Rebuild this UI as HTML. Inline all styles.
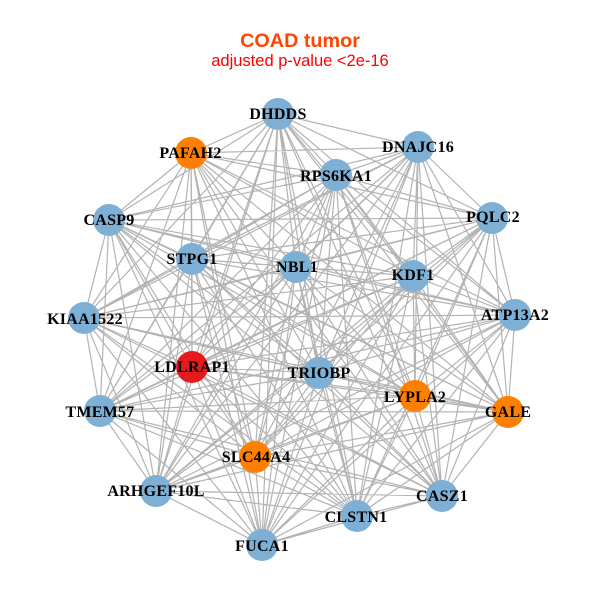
<!DOCTYPE html>
<html><head><meta charset="utf-8"><style>
html,body{margin:0;padding:0;background:#fff}
svg{display:block}
.l text{font-family:"Liberation Serif",serif;font-weight:bold;font-size:16px;letter-spacing:.25px;text-anchor:middle;fill:#000}
</style></head><body>
<svg width="600" height="600" viewBox="0 0 600 600" xmlns="http://www.w3.org/2000/svg">
<rect width="600" height="600" fill="#fff"/>
<text x="300" y="47" text-anchor="middle" font-family="Liberation Sans, sans-serif" font-weight="bold" font-size="19.8" fill="#ff4500">COAD tumor</text>
<text x="300" y="66" text-anchor="middle" font-family="Liberation Sans, sans-serif" font-size="16.5" fill="#ff0000">adjusted p-value &lt;2e-16</text>
<path fill="none" stroke="#b3b3b3" stroke-width="1.2" stroke-linejoin="round" d="
M278 114 191 153 278 114 418 147 278 114 336 175 278 114 109 220 278 114 492 218 278 114 192 259 278 114 296 267 278 114 413 276 278 114 84 318 278 114 515 315 278 114 192 367 278 114 319 373 278 114 415 396 278 114 508 412 278 114 100 411 278 114 255 457 278 114 156 491 278 114 442 496 278 114 357 516 278 114 262 545
M191 153 418 147 191 153 336 175 191 153 109 220 191 153 492 218 191 153 192 259 191 153 296 267 191 153 413 276 191 153 84 318 191 153 515 315 191 153 192 367 191 153 319 373 191 153 415 396 191 153 508 412 191 153 100 411 191 153 255 457 191 153 156 491 191 153 442 496 191 153 357 516 191 153 262 545
M418 147 336 175 418 147 109 220 418 147 492 218 418 147 192 259 418 147 296 267 418 147 413 276 418 147 84 318 418 147 515 315 418 147 192 367 418 147 319 373 418 147 415 396 418 147 508 412 418 147 100 411 418 147 255 457 418 147 156 491 418 147 442 496 418 147 357 516 418 147 262 545
M336 175 109 220 336 175 492 218 336 175 192 259 336 175 296 267 336 175 413 276 336 175 84 318 336 175 515 315 336 175 192 367 336 175 319 373 336 175 415 396 336 175 508 412 336 175 100 411 336 175 255 457 336 175 156 491 336 175 442 496 336 175 357 516 336 175 262 545
M109 220 492 218 109 220 192 259 109 220 296 267 109 220 413 276 109 220 84 318 109 220 515 315 109 220 192 367 109 220 319 373 109 220 415 396 109 220 508 412 109 220 100 411 109 220 255 457 109 220 156 491 109 220 442 496 109 220 357 516 109 220 262 545
M492 218 192 259 492 218 296 267 492 218 413 276 492 218 84 318 492 218 515 315 492 218 192 367 492 218 319 373 492 218 415 396 492 218 508 412 492 218 100 411 492 218 255 457 492 218 156 491 492 218 442 496 492 218 357 516 492 218 262 545
M192 259 296 267 192 259 413 276 192 259 84 318 192 259 515 315 192 259 192 367 192 259 319 373 192 259 415 396 192 259 508 412 192 259 100 411 192 259 255 457 192 259 156 491 192 259 442 496 192 259 357 516 192 259 262 545
M296 267 413 276 296 267 84 318 296 267 515 315 296 267 192 367 296 267 319 373 296 267 415 396 296 267 508 412 296 267 100 411 296 267 255 457 296 267 156 491 296 267 442 496 296 267 357 516 296 267 262 545
M413 276 84 318 413 276 515 315 413 276 192 367 413 276 319 373 413 276 415 396 413 276 508 412 413 276 100 411 413 276 255 457 413 276 156 491 413 276 442 496 413 276 357 516 413 276 262 545
M84 318 515 315 84 318 192 367 84 318 319 373 84 318 415 396 84 318 508 412 84 318 100 411 84 318 255 457 84 318 156 491 84 318 442 496 84 318 357 516 84 318 262 545
M515 315 192 367 515 315 319 373 515 315 415 396 515 315 508 412 515 315 100 411 515 315 255 457 515 315 156 491 515 315 442 496 515 315 357 516 515 315 262 545
M192 367 319 373 192 367 415 396 192 367 508 412 192 367 100 411 192 367 255 457 192 367 156 491 192 367 442 496 192 367 357 516 192 367 262 545
M319 373 415 396 319 373 508 412 319 373 100 411 319 373 255 457 319 373 156 491 319 373 442 496 319 373 357 516 319 373 262 545
M415 396 508 412 415 396 100 411 415 396 255 457 415 396 156 491 415 396 442 496 415 396 357 516 415 396 262 545
M508 412 100 411 508 412 255 457 508 412 156 491 508 412 442 496 508 412 357 516 508 412 262 545
M100 411 255 457 100 411 156 491 100 411 442 496 100 411 357 516 100 411 262 545
M255 457 156 491 255 457 442 496 255 457 357 516 255 457 262 545
M156 491 442 496 156 491 357 516 156 491 262 545
M442 496 357 516 442 496 262 545
M357 516 262 545"/>
<g fill="#7eb0d5">
<circle cx="278" cy="114" r="16"/><circle cx="418" cy="147" r="16"/><circle cx="336" cy="175" r="16"/><circle cx="109" cy="220" r="16"/><circle cx="492" cy="218" r="16"/><circle cx="192" cy="259" r="16"/><circle cx="296" cy="267" r="16"/><circle cx="413" cy="276" r="16"/><circle cx="84" cy="318" r="16"/><circle cx="515" cy="315" r="16"/><circle cx="319" cy="373" r="16"/><circle cx="100" cy="411" r="16"/><circle cx="156" cy="491" r="16"/><circle cx="442" cy="496" r="16"/><circle cx="357" cy="516" r="16"/><circle cx="262" cy="545" r="16"/>
</g>
<g fill="#ff7f00">
<circle cx="191" cy="153" r="16"/><circle cx="415" cy="396" r="16"/><circle cx="508" cy="412" r="16"/><circle cx="255" cy="457" r="16"/>
</g>
<circle cx="192" cy="367" r="16" fill="#e41a1c"/>
<g class="l">
<text x="278" y="119">DHDDS</text>
<text x="190.500" y="158">PAFAH2</text>
<text x="418" y="152">DNAJC16</text>
<text x="336" y="181">RPS6KA1</text>
<text x="109" y="225">CASP9</text>
<text x="493" y="222">PQLC2</text>
<text x="192" y="264">STPG1</text>
<text x="297" y="272">NBL1</text>
<text x="413" y="280">KDF1</text>
<text x="85" y="324">KIAA1522</text>
<text x="515" y="320">ATP13A2</text>
<text x="192" y="372">LDLRAP1</text>
<text x="319" y="378">TRIOBP</text>
<text x="415" y="402">LYPLA2</text>
<text x="508" y="417">GALE</text>
<text x="100" y="417">TMEM57</text>
<text x="256" y="462">SLC44A4</text>
<text x="156" y="496">ARHGEF10L</text>
<text x="442" y="501">CASZ1</text>
<text x="356" y="522">CLSTN1</text>
<text x="262" y="551">FUCA1</text>
</g>
</svg>
</body></html>
